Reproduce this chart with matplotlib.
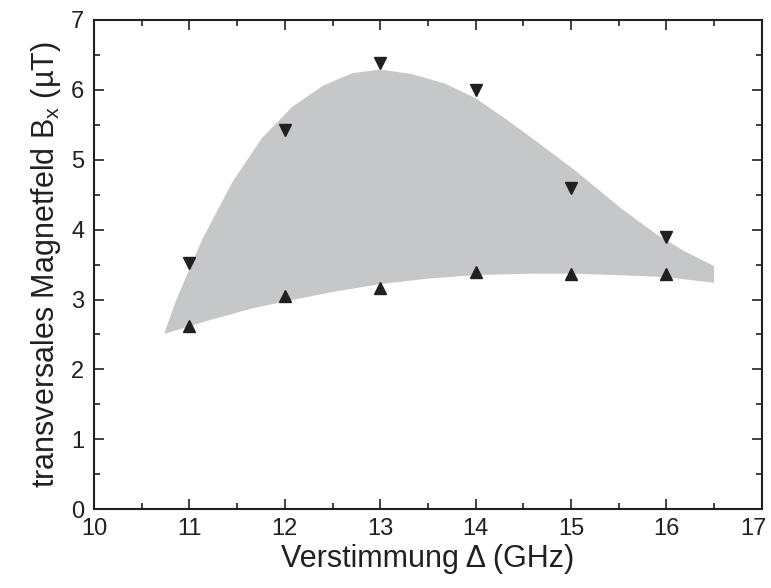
import matplotlib
matplotlib.use("Agg")
import matplotlib.pyplot as plt
import matplotlib.transforms as mtransforms
from matplotlib.ticker import MultipleLocator

plt.rcParams['font.family'] = ['Liberation Sans', 'DejaVu Sans']
plt.rcParams['mathtext.fontset'] = 'custom'
plt.rcParams['mathtext.rm'] = 'Liberation Sans'

# Measured field values
detuning = [11, 12, 13, 14, 15, 16]
b_upper = [3.52, 5.42, 6.39, 6.00, 4.59, 3.90]
b_lower = [2.62, 3.05, 3.16, 3.40, 3.36, 3.36]

# Boundaries of the shaded region
band_upper_x = [10.74, 10.86, 11.13, 11.45, 11.76, 12.08, 12.40, 12.71, 13.0,
                13.32, 13.68, 14.0, 14.31, 14.67, 15.04, 15.53, 15.89, 16.19, 16.5]
band_upper_y = [2.53, 2.99, 3.85, 4.68, 5.31, 5.76, 6.06, 6.24, 6.29,
                6.23, 6.09, 5.88, 5.59, 5.23, 4.85, 4.30, 3.94, 3.69, 3.48]
band_lower_x = [10.74, 11.2, 11.65, 12.06, 12.55, 13.0, 13.5, 14.0, 14.59,
                15.0, 15.49, 16.0, 16.5]
band_lower_y = [2.51, 2.70, 2.87, 2.99, 3.12, 3.22, 3.30, 3.35, 3.37,
                3.37, 3.35, 3.32, 3.24]

fig = plt.figure(figsize=(7.71, 5.88), dpi=100)
ax = fig.add_axes([0.122, 0.134, 0.866, 0.832])

poly_x = band_upper_x + band_lower_x[::-1]
poly_y = band_upper_y + band_lower_y[::-1]
ax.fill(poly_x, poly_y, color='#c6c7c9', lw=0, zorder=1)

ax.plot(detuning, b_upper, linestyle='none', marker='v', ms=9,
        color='#231f20', zorder=3)
ax.plot(detuning, b_lower, linestyle='none', marker='^', ms=9,
        color='#231f20', zorder=3)

ax.set_xlim(10, 17)
ax.set_ylim(0, 7)
ax.xaxis.set_major_locator(MultipleLocator(1))
ax.xaxis.set_minor_locator(MultipleLocator(0.5))
ax.yaxis.set_major_locator(MultipleLocator(1))
ax.yaxis.set_minor_locator(MultipleLocator(0.5))
ax.tick_params(which='both', direction='in', top=True, right=True,
               width=1.2, colors='#231f20', labelcolor='#231f20')
ax.tick_params(which='major', length=7, labelsize=17)
ax.tick_params(axis='x', which='major', pad=6)
ax.tick_params(axis='y', which='major', pad=7)
ax.tick_params(which='minor', length=4)
for s in ax.spines.values():
    s.set_linewidth(1.5)
    s.set_color('#231f20')

ax.set_xlabel('Verstimmung Δ (GHz)', fontsize=22, color='#231f20', labelpad=3)
ax.set_ylabel('transversales Magnetfeld B$_\\mathregular{x}$ (µT)', fontsize=22,
              color='#231f20', labelpad=6)

# nudge the rightmost x tick label so it stays on the canvas
fig.canvas.draw()
last = ax.xaxis.get_major_ticks()[-1].label1
for t in ax.xaxis.get_major_ticks():
    if abs(t.get_loc() - 17) < 1e-9:
        last = t.label1
shift = mtransforms.ScaledTranslation(-8 / 100, 0, fig.dpi_scale_trans)
last.set_transform(last.get_transform() + shift)

fig.savefig('out.png', dpi=100)
